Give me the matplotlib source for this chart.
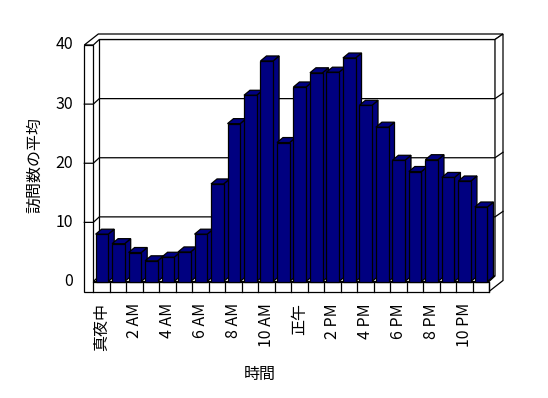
import matplotlib
matplotlib.use("Agg")
import matplotlib.pyplot as plt
from matplotlib.patches import Polygon

plt.rcParams['font.family'] = ['Noto Sans CJK JP', 'DejaVu Sans']

# data
hours = list(range(24))
visits = [8.0, 6.4, 4.9, 3.5, 4.1, 5.0, 8.0, 16.5, 26.7, 31.5, 37.3, 23.5,
          32.9, 35.3, 35.4, 37.8, 29.8, 26.1, 20.5, 18.6, 20.6, 17.6, 17.0, 12.6]
tick_pos = [0, 2, 4, 6, 8, 10, 12, 14, 16, 18, 20, 22]
tick_labels = ['真夜中', '2 AM', '4 AM', '6 AM', '8 AM', '10 AM',
               '正午', '2 PM', '4 PM', '6 PM', '8 PM', '10 PM']
y_ticks = [0, 10, 20, 30, 40]

W, H = 548, 398
fig = plt.figure(figsize=(W / 100, H / 100), dpi=100)

# front plane of the 3d box, in pixels
x0, x1 = 93.3, 489.0
y0, y1 = 281.5, 45.0
ax = fig.add_axes([x0 / W, 1 - y0 / H, (x1 - x0) / W, (y0 - y1) / H])
ax.set_xlim(0, 24)
ax.set_ylim(0, 40)
ax.axis('off')

px_x = (x1 - x0) / 24
px_y = (y0 - y1) / 40

# depth offsets (pixels -> data units)
ddx, ddy = 6 / px_x, 5.5 / px_y      # inner depth
tdx, tdy = 8 / px_x, 5.5 / px_y      # back wall thickness
wx = 9 / px_x                        # left wall thickness
fy = 10 / px_y                       # floor thickness
bdx, bdy = 6 / px_x, 5.0 / px_y      # bar depth

lw = 0.9
navy = '#000080'


def pt(x, y, z):
    # z: 0 = front, 1 = inner back, 2 = outer back
    dx = [0, ddx, ddx + tdx][z]
    dy = [0, ddy, ddy + tdy][z]
    return (x + dx, y + dy)


def poly(pts, fc='white', zo=1):
    ax.add_patch(Polygon(pts, closed=True, facecolor=fc, edgecolor='black',
                         lw=lw, zorder=zo, clip_on=False))


# back wall front face + floor top
poly([pt(0, 0, 1), pt(24, 0, 1), pt(24, 40, 1), pt(0, 40, 1)])
poly([pt(0, 0, 0), pt(24, 0, 0), pt(24, 0, 1), pt(0, 0, 1)])
# top of walls
poly([pt(-wx, 40, 0), pt(0, 40, 0), pt(0, 40, 1), pt(24, 40, 1),
      pt(24, 40, 2), pt(-wx, 40, 2)])
# right side of back wall and floor
poly([pt(24, -fy, 0), pt(24, 0, 0), pt(24, 0, 1), pt(24, 40, 1),
      pt(24, 40, 2), pt(24, -fy, 2)])
# left wall front + floor front
poly([pt(-wx, 40, 0), pt(0, 40, 0), pt(0, 0, 0), pt(24, 0, 0),
      pt(24, -fy, 0), pt(-wx, -fy, 0)])

# gridlines
for v in y_ticks[1:-1]:
    pts = [pt(-wx, v, 0), pt(0, v, 0), pt(0, v, 1), pt(24, v, 1), pt(24, v, 2)]
    ax.plot([p[0] for p in pts], [p[1] for p in pts], color='black', lw=lw,
            zorder=2, clip_on=False)

# category ticks on the floor front
for i in range(25):
    ax.plot([i, i], [0, -fy], color='black', lw=lw, zorder=2, clip_on=False)

# bars
left = [h + 0.14 for h in hours]
bw = 0.765
bars = ax.bar(left, visits, width=bw, align='edge', color=navy,
              edgecolor='black', lw=lw)
for i, (rect, v) in enumerate(zip(bars, visits)):
    xl = left[i]
    xr = xl + bw
    z = 10 + 3 * i
    poly([(xr, 0), (xr, v), (xr + bdx, v + bdy), (xr + bdx, bdy)], navy, z)
    poly([(xl, v), (xr, v), (xr + bdx, v + bdy), (xl + bdx, v + bdy)], navy, z)
    rect.set_zorder(z + 1)
    rect.set_clip_on(False)

fs = 11.5
for v in y_ticks:
    ax.text(-(x0 - 73) / px_x, v, str(v), ha='right', va='center',
            fontsize=fs, clip_on=False)

for p, lab in zip(tick_pos, tick_labels):
    ax.text(p + 0.5, -(303 - y0) / px_y, lab, rotation=90, ha='center',
            va='top', fontsize=fs, clip_on=False)

fig.text(35 / W, 1 - 165 / H, '訪問数の平均', rotation=90, ha='center',
         va='center', fontsize=fs)
fig.text(260 / W, 1 - 374 / H, '時間', ha='center', va='center', fontsize=fs)

fig.savefig('out.png', dpi=100)
